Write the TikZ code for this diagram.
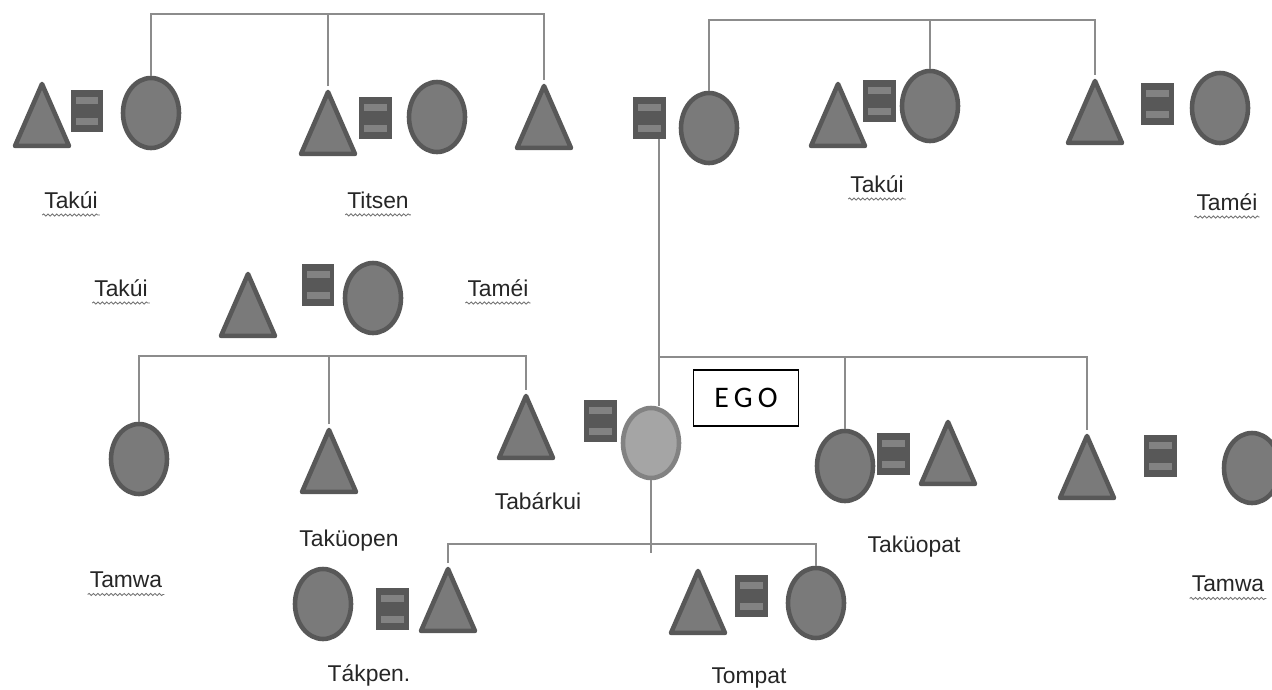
\documentclass[tikz,border=0pt]{standalone}
\usepackage{fontspec}
\setmainfont{Liberation Sans}
\newfontfamily\egofont{Carlito}
\usetikzlibrary{shapes.geometric}
\usetikzlibrary{positioning}
\usetikzlibrary{decorations.pathmorphing}
\definecolor{shapefill}{RGB}{122,122,122}
\definecolor{shapeline}{RGB}{88,88,88}
\definecolor{barfill}{RGB}{130,130,130}
\definecolor{kinline}{RGB}{140,140,140}
\definecolor{egofill}{RGB}{165,165,165}
\definecolor{egoline}{RGB}{130,130,130}

\begin{document}
\begin{tikzpicture}[x=0.02cm, y=-0.02cm, >=latex,
  every node/.style={font=\fontsize{13}{15}\selectfont, text=black!85},
  female/.style={draw=shapeline, fill=shapefill, ellipse, line width=2.6pt, minimum width=1.12cm, minimum height=1.4cm, inner sep=0pt},
  male/.style={draw=shapeline, fill=shapefill, isosceles triangle, isosceles triangle stretches, shape border rotate=90, line width=2.6pt, line join=round, minimum width=1.08cm, minimum height=1.24cm, inner sep=0pt, anchor=apex},
  marr/.style={fill=shapeline, rectangle, minimum width=0.66cm, minimum height=0.84cm, inner sep=0pt, path picture={
      \fill[barfill] ([xshift=0.1cm,yshift=-0.14cm]path picture bounding box.north west) rectangle ([xshift=-0.1cm,yshift=-0.28cm]path picture bounding box.north east);
      \fill[barfill] ([xshift=0.1cm,yshift=0.14cm]path picture bounding box.south west) rectangle ([xshift=-0.1cm,yshift=0.28cm]path picture bounding box.south east);}},
  kin/.style={draw=kinline, line width=1pt},
  lbl/.style={inner sep=1pt},
  spell/.style={lbl, append after command={([yshift=-2.5pt]\tikzlastnode.south west) edge[draw=black!55, line width=0.5pt, decorate, decoration={snake, amplitude=0.6pt, segment length=2.5pt}] ([yshift=-2.5pt]\tikzlastnode.south east)}}
]
    \clip (0,0) rectangle (1272,690);

    % Top left sibship
    \node[male] (tA) at (42,78) {};
    \node[marr] (mA) at (87,111) {};
    \node[female] (fA) at (151,113) {};
    \node[male] (tB) at (328,86) {};
    \node[marr] (mB) at (375,118) {};
    \node[female] (fB) at (437,117) {};
    \node[male] (tC) at (544,80) {};
    % Ego's parents
    \node[marr] (mC) at (649,118) {};
    \node[female] (fC) at (709,128) {};
    % Top right sibship
    \node[male] (tD) at (838,78) {};
    \node[marr] (mD) at (879,101) {};
    \node[female] (fD) at (930,106) {};
    \node[male] (tE) at (1095,75) {};
    \node[marr] (mE) at (1157,104) {};
    \node[female] (fE) at (1220,108) {};
    % Lines of the top sibships
    \coordinate (barA) at (0,14);
    \draw[kin] (fA.north) -- (fA.north |- barA) -- (tC.apex |- barA) -- (tC.apex);
    \draw[kin] (tB.apex) -- (tB.apex |- barA);
    \coordinate (barB) at (0,20);
    \draw[kin] (fC.north) -- (fC.north |- barB) -- (tE.apex |- barB) -- (tE.apex);
    \draw[kin] (fD.north) -- (fD.north |- barB);
    % Labels of the top row
    \node[spell] (lA) at (71,200) {Takúi};
    \node[spell] (lB) at (378,200) {Titsen};
    \node[spell] (lD) at (877,184) {Takúi};
    \node[spell] (lE) at (1227,202) {Taméi};

    % Second row couple
    \node[male] (tM) at (248,268) {};
    \node[marr] (mM) at (318,285) {};
    \node[female] (fM) at (373,298) {};
    \node[spell] (lM1) at (121,288) {Takúi};
    \node[spell] (lM2) at (498,288) {Taméi};

    % Third row, left sibship
    \node[female] (fL1) at (139,459) {};
    \node[male] (tL2) at (329,424) {};
    \node[male] (tL3) at (526,390) {};
    \coordinate (barC) at (0,356);
    \draw[kin] (fL1.north) -- (fL1.north |- barC) -- (tL3.apex |- barC) -- (tL3.apex);
    \draw[kin] (tL2.apex) -- (tL2.apex |- barC);
    % Ego and spouse
    \node[marr] (mL) at (600,421) {};
    \node[female, fill=egofill, draw=egoline] (ego) at (651,443) {};
    \node[draw=black, line width=1.1pt, minimum width=2.1cm, minimum height=1.12cm, font=\egofont\fontsize{17}{19}\selectfont, text=black] (egobox) at (746,398) {E\,G\,O\hspace{0.25cm}};
    % Third row, right sibship
    \node[female] (fR1) at (845,466) {};
    \node[marr] (mR) at (893,454) {};
    \node[male] (tR2) at (948,416) {};
    \node[male] (tR3) at (1087,430) {};
    \node[marr] (mR2) at (1160,456) {};
    \node[female] (fR4) at (1252,468) {};
    \coordinate (barD) at (0,357);
    \draw[kin] ([xshift=0.2cm]mC.south) -- ([xshift=0.2cm]mC.south |- ego.north);
    \draw[kin] ([xshift=0.2cm]mC.south |- barD) -- (tR3.apex |- barD) -- (tR3.apex);
    \draw[kin] (fR1.north) -- (fR1.north |- barD);
    % Labels of the third row
    \node[spell] (lL1) at (126,580) {Tamwa};
    \node[lbl] (lL2) at (349,541) {Taküopen};
    \node[lbl] (lL3) at (538,501) {Tabárkui};
    \node[lbl] (lR1) at (914,547) {Taküopat};
    \node[spell] (lR4) at (1228,584) {Tamwa};

    % Children of Ego
    \node[female] (fB1) at (323,604) {};
    \node[marr] (mB1) at (392,609) {};
    \node[male] (tB1) at (448,563) {};
    \node[male] (tB2) at (698,565) {};
    \node[marr] (mB2) at (751,596) {};
    \node[female] (fB2) at (816,603) {};
    \coordinate (barE) at (0,544);
    \coordinate (dropE) at (0,553);
    \draw[kin] (ego.south) -- (ego.south |- dropE);
    \draw[kin] (tB1.apex) -- (tB1.apex |- barE) -- (fB2.north |- barE) -- (fB2.north);
    \node[lbl] (lB1) at (369,675) {Tákpen.};
    \node[spell] (lB2) at (749,678) {Tompat};
\end{tikzpicture}
\end{document}
